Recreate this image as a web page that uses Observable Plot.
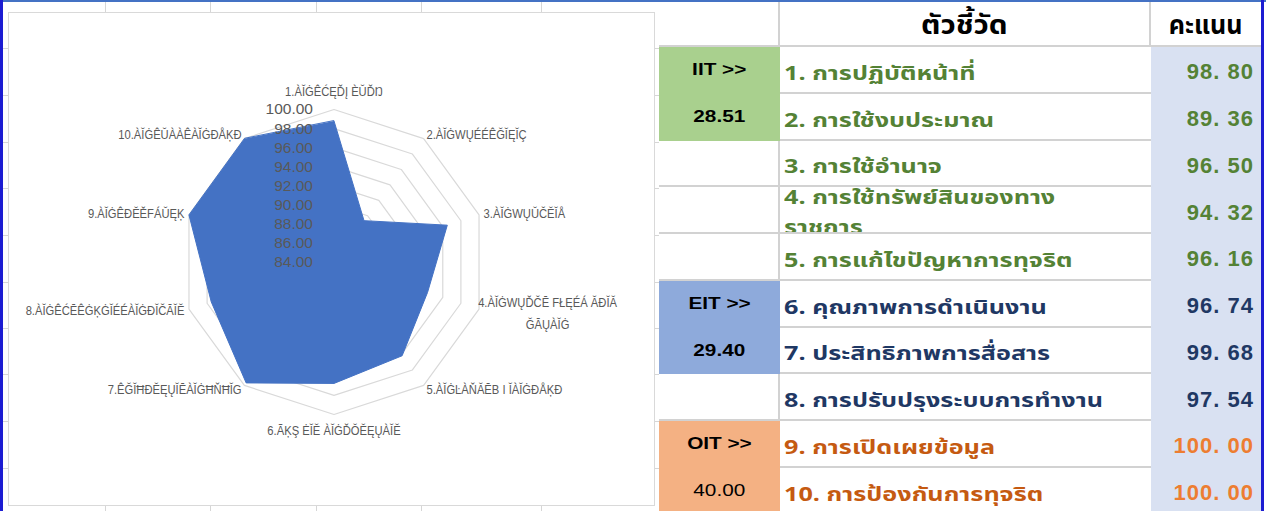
<!DOCTYPE html>
<html>
<head>
<meta charset="utf-8">
<script src="https://cdn.jsdelivr.net/npm/d3@7"></script>
<script src="https://cdn.jsdelivr.net/npm/@observablehq/plot@0.6"></script>
<style>
html, body { margin: 0; padding: 0; background: #ffffff; }
#page { position: relative; width: 1266px; height: 511px; overflow: hidden; background: #ffffff; }
.gl { position: absolute; background: #d6d6d6; }
#chartbox { position: absolute; left: 8px; top: 12px; width: 645px; height: 492px; border: 1px solid #d9d9d9; background: #ffffff; }
#chartbox svg { display: block; }
#table { position: absolute; left: 659px; top: 0px; width: 602px; height: 511px;
  display: grid; grid-template-columns: 121px 371px 110px; grid-template-rows: 47px repeat(10, 46.75px); }
.cell { box-sizing: border-box; overflow: hidden; position: relative; background: #ffffff; }
.cellA { border-right: 2px solid #d2d2d2; border-bottom: 2px solid #d2d2d2; }
.cellB { border-right: 2px solid #d2d2d2; border-bottom: 2px solid #d2d2d2; }
.cellBb { border-bottom: 2px solid #d2d2d2; }
.grp { display: flex; flex-direction: column; }
.grp div { flex: 1; display: flex; align-items: center; justify-content: center;
  font-family: "Liberation Sans", Arial, sans-serif; font-size: 17px; color: #000; }
.grp span { display: inline-block; transform: scaleX(1.22); }
.hdr { display: flex; align-items: center; justify-content: center; padding-top: 5px;
  font-family: "Tahoma", "Noto Sans Thai", "Leelawadee UI", sans-serif; font-weight: bold; font-size: 27px; color: #000; }
.hdr span { display: inline-block; }
.lab { font-family: "Tahoma", "Noto Sans Thai", "Leelawadee UI", sans-serif; font-weight: bold; font-size: 20px;
  display: flex; align-items: flex-end; padding: 0 0 3px 4px; white-space: nowrap; }
.lab span, .lab2 span { display: inline-block; transform: scaleX(1.26); transform-origin: 0 50%; }
.lab2 { font-family: "Tahoma", "Noto Sans Thai", "Leelawadee UI", sans-serif; font-weight: bold; font-size: 20px;
  padding-left: 4px; line-height: 30px; position: absolute; left: 0; top: -4px; white-space: nowrap; }
.val { background: #d9e1f2; font-family: "Liberation Sans", Arial, sans-serif; font-weight: bold; font-size: 22px;
  letter-spacing: 1px; display: flex; align-items: center; justify-content: flex-end; padding-right: 7px; padding-top: 4px; }
</style>
</head>
<body>
<div id="page"></div>
<script>
// ---------------- data ----------------
const radarLabels = [
  "1.ÀĬĠÊĆĘĎĮ ÈŬĎŊ",
  "2.ÀĬĠWŲÉÉÊĞĬĘĬÇ",
  "3.ÀĬĠWŲŬČĔĬÅ",
  "4.ÀĬĠWŲĎČĒ FŁĘÉÁ ĂĐĬĂ\nĞĀŲÀĬĠ",
  "5.ÀĬĠĿÀŇĂĒB I ĬÀĬĠĐÅĶĐ",
  "6.ÃĶŞ ĖĬĔ ÀĬĠĎŎĔĘŲÀĬĔ",
  "7.ÊĞĬĦĐĔĘŲĬĒÀĬĠĦŇĦĬG",
  "8.ÀĬĠÊĆĒÊĠĶĠĬÉÉÀĬĠĐĬČĀĬĔ",
  "9.ÀĬĠÊĐĔĚFÁŬĘĶ",
  "10.ÀĬĠÊŬÀÀÊÀĬĠĐÅĶĐ"
];
const indicatorNames = [
  "1. การปฏิบัติหน้าที่",
  "2. การใช้งบประมาณ",
  "3. การใช้อำนาจ",
  "4. การใช้ทรัพย์สินของทาง\nราชการ",
  "5. การแก้ไขปัญหาการทุจริต",
  "6. คุณภาพการดำเนินงาน",
  "7. ประสิทธิภาพการสื่อสาร",
  "8. การปรับปรุงระบบการทำงาน",
  "9. การเปิดเผยข้อมูล",
  "10. การป้องกันการทุจริต"
];
const scores = [98.80, 89.36, 96.50, 94.32, 96.16, 96.74, 99.68, 97.54, 100.00, 100.00];
const indicatorGroup = ["IIT", "IIT", "IIT", "IIT", "IIT", "EIT", "EIT", "EIT", "OIT", "OIT"];
const groupNames = ["IIT", "EIT", "OIT"];
const groupScores = [28.51, 29.40, 40.00];
const groupFirstRow = [1, 6, 9];
const axisTicks = [84, 86, 88, 90, 92, 94, 96, 98, 100];
const headerTitles = ["ตัวชี้วัด", "คะแนน"];

// ---------------- styles ----------------
const groupFill = {IIT: "#a9d08e", EIT: "#8eaadb", OIT: "#f4b183"};
const groupBold = {IIT: [true, true], EIT: [true, true], OIT: [true, false]};
const labelColor = {IIT: "#548235", EIT: "#1f3864", OIT: "#c55a11"};
const valueColor = {IIT: "#548235", EIT: "#1f3864", OIT: "#ed7d31"};
const headerStretch = [1.1, 0.93];

const page = document.getElementById("page");

// spreadsheet gridlines (background)
[105, 210, 316, 421, 541].forEach(x => {
  const d = document.createElement("div"); d.className = "gl";
  Object.assign(d.style, {left: x + "px", top: "0px", width: "1px", height: "511px"}); page.appendChild(d);
});
[48, 95, 142, 188, 235, 282, 328, 374, 421, 468].forEach(y => {
  const d = document.createElement("div"); d.className = "gl";
  Object.assign(d.style, {left: "0px", top: y + "px", width: "660px", height: "1px"}); page.appendChild(d);
});

// ---------------- radar chart ----------------
const box = document.createElement("div"); box.id = "chartbox"; page.appendChild(box);
const base = axisTicks[0], topV = axisTicks[axisTicks.length - 1];
const W = 645, H = 492, cx = 324.5, cy = 248.5;
const k = 152.5 / (topV - base);
const n = scores.length;
const ang = i => i * 2 * Math.PI / n;
const px = (v, i) => (v - base) * Math.sin(ang(i));
const py = (v, i) => (v - base) * Math.cos(ang(i));

const rings = axisTicks.filter(t => t > base).flatMap(t => d3.range(n).map(i => ({t, i})));
const pts = scores.map((v, i) => ({v, i}));
const labR = (topV - base) + 0.5;
const labs = radarLabels.map((s, i) => ({s, i, x: labR * Math.sin(ang(i)), y: labR * Math.cos(ang(i))}));
const labFont = {fontFamily: "'Liberation Sans Narrow', 'Liberation Sans', sans-serif", fontSize: 13.5, fill: "#595959"};

const radar = Plot.plot({
  width: W, height: H, margin: 0,
  x: {domain: [-cx / k, (W - cx) / k], axis: null},
  y: {domain: [-(H - cy) / k, cy / k], axis: null},
  style: {background: "transparent", overflow: "visible"},
  marks: [
    Plot.line(rings, {x: d => px(d.t, d.i), y: d => py(d.t, d.i), z: "t", curve: "linear-closed", stroke: "#d9d9d9", strokeWidth: 1.2}),
    Plot.line(pts, {x: d => px(d.v, d.i), y: d => py(d.v, d.i), curve: "linear-closed", fill: "#4472c4", stroke: "#4472c4", strokeWidth: 1}),
    Plot.text(axisTicks, {x: 0, y: d => d - base, text: d => d.toFixed(2), textAnchor: "end", dx: -21,
      fill: "#595959", fontSize: 15.5, fontFamily: "'Liberation Sans', sans-serif"}),
    Plot.text(labs.filter(d => d.i === 0), {x: "x", y: "y", text: "s", textAnchor: "middle", dy: -13, ...labFont}),
    Plot.text(labs.filter(d => d.i === n / 2), {x: "x", y: "y", text: "s", textAnchor: "middle", dy: 11, ...labFont}),
    Plot.text(labs.filter(d => d.i > 0 && d.i < n / 2 && !d.s.includes("\n")), {x: "x", y: "y", text: "s", textAnchor: "start", ...labFont}),
    Plot.text(labs.filter(d => d.s.includes("\n")), {x: "x", y: "y", text: "s", textAnchor: "middle", dx: 64, lineHeight: 1.65, ...labFont}),
    Plot.text(labs.filter(d => d.i > n / 2), {x: "x", y: "y", text: "s", textAnchor: "end", ...labFont})
  ]
});
box.appendChild(radar);
// condense the category labels (narrow chart font)
const textGroups = radar.querySelectorAll('g[aria-label="text"]');
textGroups.forEach((g, gi) => {
  if (gi === 0) return; // tick labels
  g.querySelectorAll("text").forEach(t => {
    const spans = t.querySelectorAll("tspan");
    const targets = spans.length ? Array.from(spans) : [t];
    targets.forEach(el => {
      const len = el.getComputedTextLength();
      el.setAttribute("textLength", (len * 0.83).toFixed(1));
      el.setAttribute("lengthAdjust", "spacingAndGlyphs");
    });
  });
});

// ---------------- table ----------------
const table = document.createElement("div"); table.id = "table"; page.appendChild(table);
function cell(cls, col, row, rowSpan) {
  const d = document.createElement("div");
  d.className = "cell " + cls;
  d.style.gridColumn = String(col);
  d.style.gridRow = rowSpan ? `${row} / span ${rowSpan}` : String(row);
  table.appendChild(d);
  return d;
}
function span(text) { const s = document.createElement("span"); s.textContent = text; return s; }
// header row
cell("cellA", 1, 1);
const h1 = cell("cellB hdr", 2, 1); const s1 = span(headerTitles[0]); s1.style.transform = `scaleX(${headerStretch[0]})`; h1.appendChild(s1);
const h2 = cell("cellBb hdr", 3, 1); const s2 = span(headerTitles[1]); s2.style.transform = `scaleX(${headerStretch[1]})`; h2.appendChild(s2);

// column A: group cells
const groupRowSet = new Set();
groupNames.forEach((g, gi) => {
  const r = groupFirstRow[gi];
  groupRowSet.add(r); groupRowSet.add(r + 1);
  const c = cell("grp", 1, r + 1, 2);
  c.style.background = groupFill[g];
  const a = document.createElement("div"); a.appendChild(span(g + " >>"));
  a.style.fontWeight = groupBold[g][0] ? "bold" : "normal";
  const b = document.createElement("div"); b.appendChild(span(groupScores[gi].toFixed(2)));
  b.style.fontWeight = groupBold[g][1] ? "bold" : "normal";
  c.appendChild(a); c.appendChild(b);
});
for (let r = 1; r <= n; r++) if (!groupRowSet.has(r)) cell("cellA", 1, r + 1);

// columns B and C
indicatorNames.forEach((name, i) => {
  const g = indicatorGroup[i];
  const c = cell("cellBb", 2, i + 2);
  if (name.includes("\n")) {
    const t = document.createElement("div"); t.className = "lab2";
    t.style.color = labelColor[g];
    name.split("\n").forEach(line => { const l = document.createElement("div"); l.appendChild(span(line)); t.appendChild(l); });
    c.appendChild(t);
  } else {
    c.classList.add("lab");
    c.style.color = labelColor[g];
    c.appendChild(span(name));
  }
  const v = cell("val", 3, i + 2);
  v.style.color = valueColor[g];
  const [ip, dp] = scores[i].toFixed(2).split(".");
  v.textContent = ip + ". " + dp;
});

// frame borders
const frames = [
  {left: "0px", top: "0px", width: "1266px", height: "2px", background: "#4472c4"},
  {left: "0px", top: "0px", width: "3px", height: "511px", background: "#1c1cd2"},
  {left: "1261px", top: "0px", width: "3px", height: "511px", background: "#1c1cd2"}
];
frames.forEach(f => { const d = document.createElement("div"); d.style.position = "absolute"; Object.assign(d.style, f); page.appendChild(d); });
</script>
</body>
</html>
